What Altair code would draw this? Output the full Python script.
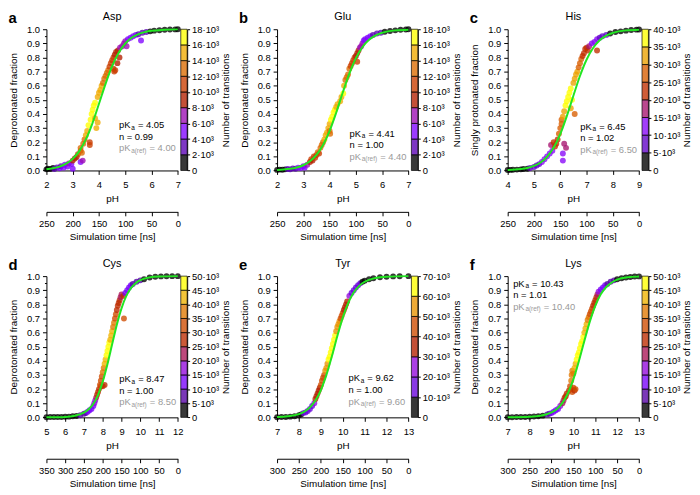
import math
import altair as alt
import pandas as pd

# ---------------- data ----------------
# points: (pH, fraction, number of transitions in thousands)
asp_points = [
    (2.00, 0.008, 0.5), (2.05, 0.012, 0.8), (2.15, 0.010, 1.2), (2.25, 0.018, 1.5), (2.30, 0.010, 2.5),
    (2.40, 0.022, 3.0), (2.50, 0.015, 4.0), (2.55, 0.030, 3.5), (2.65, 0.020, 4.5), (2.70, 0.040, 5.0),
    (2.80, 0.028, 4.5), (2.85, 0.050, 6.0), (2.95, 0.045, 5.5), (3.00, 0.012, 5.0), (3.00, 0.070, 8.5),
    (3.08, 0.085, 9.0), (3.15, 0.095, 9.5), (3.20, 0.115, 10.0), (3.30, 0.060, 5.5), (3.38, 0.070, 6.0),
    (3.30, 0.140, 11.0), (3.30, 0.160, 12.5), (3.35, 0.125, 12.0), (3.40, 0.190, 12.5), (3.45, 0.220, 13.5),
    (3.50, 0.250, 14.0), (3.55, 0.280, 15.5), (3.60, 0.320, 16.5), (3.65, 0.180, 10.5), (3.65, 0.200, 11.0),
    (3.68, 0.360, 17.0), (3.72, 0.400, 17.5), (3.76, 0.430, 17.0), (3.80, 0.460, 16.5), (3.85, 0.370, 14.5),
    (3.85, 0.480, 16.0), (3.90, 0.300, 14.0), (3.95, 0.340, 14.5), (3.95, 0.520, 15.5), (4.00, 0.550, 15.0),
    (4.05, 0.570, 14.5), (4.10, 0.600, 14.0), (4.15, 0.620, 13.5), (4.20, 0.650, 13.0), (4.25, 0.670, 12.5),
    (4.30, 0.690, 12.5), (4.35, 0.710, 12.0), (4.40, 0.735, 11.5), (4.45, 0.760, 11.0), (4.50, 0.780, 10.5),
    (4.55, 0.720, 10.5), (4.58, 0.700, 10.0), (4.62, 0.710, 10.5), (4.55, 0.800, 10.0), (4.60, 0.820, 9.5),
    (4.65, 0.840, 9.0), (4.70, 0.760, 9.5), (4.72, 0.850, 8.5), (4.78, 0.800, 8.0), (4.80, 0.870, 7.5),
    (4.88, 0.880, 7.0), (4.95, 0.900, 6.5), (5.00, 0.915, 6.0), (5.05, 0.880, 6.0), (5.10, 0.930, 5.5),
    (5.20, 0.940, 5.0), (5.30, 0.950, 4.5), (5.40, 0.960, 4.0), (5.50, 0.965, 3.5), (5.60, 0.920, 4.5),
    (5.65, 0.975, 3.0), (5.80, 0.980, 2.5), (5.95, 0.985, 1.8), (6.10, 0.990, 1.5), (6.30, 0.993, 1.0),
    (6.50, 0.996, 0.8), (6.70, 0.998, 0.5), (6.90, 0.999, 0.3), (7.00, 1.000, 0.2),
]
asp_curve = [
    (2.0, 0.009), (2.25, 0.016), (2.5, 0.027), (2.75, 0.048), (3.0, 0.082), (3.25, 0.137), (3.5, 0.220),
    (3.75, 0.334), (4.0, 0.472), (4.25, 0.613), (4.5, 0.738), (4.75, 0.834), (5.0, 0.899), (5.25, 0.941),
    (5.5, 0.966), (5.75, 0.980), (6.0, 0.989), (6.5, 0.996), (7.0, 0.999),
]

glu_points = [
    (2.00, 0.004, 0.5), (2.10, 0.006, 0.8), (2.20, 0.005, 1.0), (2.30, 0.008, 1.5), (2.40, 0.010, 2.0),
    (2.50, 0.008, 2.5), (2.60, 0.015, 3.0), (2.70, 0.012, 3.5), (2.80, 0.020, 4.5), (2.90, 0.018, 5.0),
    (3.00, 0.030, 5.5), (3.05, 0.020, 5.0), (3.15, 0.040, 7.0), (3.25, 0.060, 9.0), (3.30, 0.080, 10.0),
    (3.35, 0.070, 9.5), (3.40, 0.100, 10.5), (3.45, 0.090, 10.0), (3.50, 0.110, 11.0), (3.55, 0.130, 12.0),
    (3.60, 0.120, 11.5), (3.65, 0.160, 12.5), (3.70, 0.180, 13.0), (3.75, 0.200, 13.5), (3.80, 0.220, 14.0),
    (3.85, 0.250, 14.5), (3.90, 0.270, 15.0), (3.95, 0.300, 15.5), (4.00, 0.330, 15.5), (4.00, 0.280, 13.0),
    (4.02, 0.260, 12.5), (4.05, 0.360, 16.0), (4.10, 0.380, 16.0), (4.15, 0.410, 16.5), (4.20, 0.430, 16.0),
    (4.25, 0.450, 15.5), (4.30, 0.470, 15.5), (4.40, 0.490, 15.5), (4.45, 0.520, 15.0), (4.52, 0.545, 16.5),
    (4.55, 0.600, 14.0), (4.60, 0.640, 13.5), (4.65, 0.660, 13.0), (4.70, 0.680, 12.5), (4.75, 0.720, 12.0),
    (4.80, 0.740, 11.5), (4.85, 0.760, 11.0), (4.90, 0.780, 10.5), (4.95, 0.800, 10.0), (5.00, 0.810, 9.5),
    (5.05, 0.770, 10.0), (5.05, 0.830, 9.0), (5.10, 0.850, 8.0), (5.15, 0.870, 7.0), (5.20, 0.880, 6.5),
    (5.25, 0.900, 6.0), (5.30, 0.920, 5.5), (5.35, 0.930, 5.0), (5.45, 0.940, 4.5), (5.55, 0.950, 4.0),
    (5.65, 0.960, 3.5), (5.80, 0.970, 2.5), (5.95, 0.975, 2.0), (6.10, 0.982, 1.5), (6.30, 0.988, 1.0),
    (6.50, 0.992, 0.8), (6.70, 0.996, 0.5), (6.90, 0.998, 0.3), (7.00, 1.000, 0.2),
]
glu_curve = [
    (2.0, 0.004), (2.25, 0.007), (2.5, 0.012), (2.75, 0.021), (3.0, 0.037), (3.25, 0.065), (3.5, 0.110),
    (3.75, 0.180), (4.0, 0.280), (4.25, 0.409), (4.5, 0.552), (4.75, 0.686), (5.0, 0.795), (5.25, 0.874),
    (5.5, 0.925), (5.75, 0.956), (6.0, 0.975), (6.5, 0.992), (7.0, 0.997),
]

his_points = [
    (4.00, 0.003, 0.5), (4.10, 0.004, 1.0), (4.20, 0.005, 1.0), (4.35, 0.006, 2.0), (4.50, 0.008, 2.5),
    (4.60, 0.010, 3.0), (4.75, 0.012, 4.0), (4.85, 0.018, 5.0), (5.00, 0.025, 7.0), (5.10, 0.035, 8.0),
    (5.20, 0.045, 9.0), (5.30, 0.060, 10.0), (5.40, 0.080, 11.0), (5.50, 0.100, 12.0), (5.60, 0.120, 13.0),
    (5.65, 0.180, 19.0), (5.70, 0.140, 14.0), (5.75, 0.200, 21.0), (5.80, 0.170, 20.0), (5.85, 0.190, 22.0),
    (5.90, 0.220, 23.0), (5.95, 0.260, 25.0), (6.00, 0.300, 27.0), (6.05, 0.330, 28.0), (6.05, 0.360, 29.0),
    (6.10, 0.380, 30.0), (6.10, 0.120, 12.0), (6.10, 0.070, 11.0), (6.15, 0.190, 17.0), (6.22, 0.160, 18.0),
    (6.15, 0.420, 32.0), (6.20, 0.460, 36.0), (6.25, 0.490, 38.0), (6.30, 0.520, 38.5), (6.35, 0.550, 37.0),
    (6.40, 0.580, 36.0), (6.40, 0.440, 34.0), (6.45, 0.500, 37.0), (6.50, 0.620, 34.0), (6.55, 0.400, 27.0),
    (6.55, 0.650, 32.0), (6.60, 0.680, 31.0), (6.65, 0.700, 30.0), (6.70, 0.730, 29.0), (6.75, 0.760, 27.0),
    (6.80, 0.790, 25.0), (6.85, 0.810, 23.0), (6.90, 0.830, 22.0), (6.95, 0.860, 21.0), (7.00, 0.870, 20.0),
    (7.05, 0.850, 21.0), (7.10, 0.880, 18.0), (7.20, 0.900, 14.0), (7.30, 0.910, 12.0), (7.40, 0.850, 21.0),
    (7.40, 0.930, 10.0), (7.50, 0.940, 9.0), (7.60, 0.950, 8.0), (7.75, 0.960, 6.0), (7.90, 0.970, 4.0),
    (8.10, 0.980, 3.0), (8.30, 0.985, 2.0), (8.50, 0.990, 1.5), (8.70, 0.995, 1.0), (8.90, 0.997, 0.5),
    (9.00, 0.998, 0.3),
]
his_curve = [
    (4.0, 0.003), (4.5, 0.010), (4.75, 0.018), (5.0, 0.032), (5.25, 0.056), (5.5, 0.097), (5.75, 0.162),
    (6.0, 0.258), (6.25, 0.385), (6.5, 0.529), (6.75, 0.669), (7.0, 0.784), (7.25, 0.867), (7.5, 0.922),
    (7.75, 0.955), (8.0, 0.974), (8.5, 0.992), (9.0, 0.997),
]

cys_points = [
    (5.00, 0.001, 0.5), (5.20, 0.002, 0.8), (5.40, 0.002, 1.0), (5.60, 0.002, 1.2), (5.80, 0.003, 1.5),
    (6.00, 0.004, 2.0), (6.20, 0.005, 2.5), (6.40, 0.008, 3.0), (6.60, 0.010, 4.0), (6.80, 0.015, 5.0),
    (7.00, 0.025, 7.0), (7.10, 0.030, 9.0), (7.20, 0.040, 11.0), (7.30, 0.050, 12.0), (7.40, 0.060, 13.0),
    (7.50, 0.080, 14.0), (7.55, 0.100, 16.0), (7.60, 0.120, 18.0), (7.65, 0.140, 24.0), (7.70, 0.160, 26.0),
    (7.75, 0.180, 27.0), (7.80, 0.200, 28.0), (7.90, 0.220, 29.0), (8.00, 0.220, 28.0), (8.10, 0.230, 28.0),
    (7.85, 0.230, 30.0), (7.90, 0.260, 32.0), (7.95, 0.290, 34.0), (8.00, 0.320, 36.0), (8.05, 0.350, 38.0),
    (8.10, 0.380, 41.0), (8.15, 0.410, 44.0), (8.20, 0.440, 47.0), (8.25, 0.470, 48.0), (8.30, 0.500, 47.0),
    (8.35, 0.530, 46.0), (8.40, 0.550, 44.0), (8.45, 0.580, 42.0), (8.50, 0.610, 40.0), (8.55, 0.640, 38.0),
    (8.60, 0.670, 36.0), (8.65, 0.700, 34.0), (8.70, 0.730, 31.0), (8.75, 0.760, 29.0), (8.80, 0.790, 27.0),
    (8.85, 0.810, 26.0), (8.90, 0.830, 25.0), (8.95, 0.850, 24.0), (9.00, 0.870, 22.0), (9.10, 0.860, 25.0),
    (9.13, 0.700, 30.0), (9.20, 0.880, 14.0), (9.30, 0.900, 12.0), (9.40, 0.920, 11.0), (9.50, 0.935, 10.0),
    (9.60, 0.945, 9.0), (9.80, 0.960, 7.0), (10.00, 0.970, 5.0), (10.20, 0.978, 4.0), (10.50, 0.990, 3.0),
    (10.80, 0.995, 2.0), (11.10, 0.998, 1.5), (11.40, 0.999, 1.0), (11.70, 1.000, 0.5), (12.00, 1.000, 0.3),
]
cys_curve = [
    (5.0, 0.000), (5.5, 0.001), (6.0, 0.003), (6.5, 0.011), (7.0, 0.033), (7.25, 0.057), (7.5, 0.097),
    (7.75, 0.160), (8.0, 0.253), (8.25, 0.376), (8.5, 0.517), (8.75, 0.656), (9.0, 0.772), (9.25, 0.858),
    (9.5, 0.915), (9.75, 0.950), (10.0, 0.971), (10.5, 0.991), (11.0, 0.997), (12.0, 1.000),
]

tyr_points = [
    (7.00, 0.001, 0.5), (7.20, 0.002, 1.0), (7.40, 0.003, 1.5), (7.60, 0.005, 2.0), (7.80, 0.008, 3.0),
    (8.00, 0.015, 5.0), (8.10, 0.020, 7.0), (8.20, 0.030, 10.0), (8.30, 0.035, 12.0), (8.40, 0.045, 14.0),
    (8.50, 0.060, 16.0), (8.60, 0.080, 18.0), (8.70, 0.100, 22.0), (8.75, 0.130, 30.0), (8.80, 0.150, 32.0),
    (8.85, 0.170, 34.0), (8.90, 0.190, 35.0), (8.95, 0.210, 37.0), (9.00, 0.230, 40.0), (9.05, 0.260, 43.0),
    (9.10, 0.280, 46.0), (9.15, 0.300, 48.0), (9.20, 0.330, 52.0), (9.25, 0.350, 55.0), (9.30, 0.380, 58.0),
    (9.35, 0.410, 62.0), (9.40, 0.430, 64.0), (9.45, 0.460, 66.0), (9.50, 0.490, 67.0), (9.55, 0.520, 66.0),
    (9.60, 0.550, 65.0), (9.65, 0.580, 63.0), (9.70, 0.610, 58.0), (9.75, 0.640, 54.0), (9.80, 0.660, 52.0),
    (9.85, 0.680, 50.0), (9.90, 0.700, 47.0), (9.95, 0.720, 44.0), (10.00, 0.740, 40.0), (10.05, 0.760, 37.0),
    (10.10, 0.780, 35.0), (10.15, 0.800, 33.0), (10.20, 0.820, 31.0), (10.30, 0.860, 22.0), (10.40, 0.880, 19.0),
    (10.50, 0.900, 17.0), (10.60, 0.920, 15.0), (10.70, 0.935, 13.0), (10.80, 0.950, 11.0), (10.90, 0.960, 9.0),
    (11.00, 0.968, 7.0), (11.20, 0.978, 5.0), (11.40, 0.985, 3.0), (11.70, 0.992, 2.0), (12.00, 0.996, 1.5),
    (12.30, 0.998, 1.0), (12.60, 0.999, 0.5), (13.00, 1.000, 0.3),
]
tyr_curve = [
    (7.0, 0.002), (7.5, 0.008), (8.0, 0.023), (8.25, 0.041), (8.5, 0.071), (8.75, 0.119), (9.0, 0.193),
    (9.25, 0.299), (9.5, 0.431), (9.75, 0.574), (10.0, 0.706), (10.25, 0.810), (10.5, 0.884), (10.75, 0.931),
    (11.0, 0.960), (11.5, 0.987), (12.0, 0.996), (13.0, 1.000),
]

lys_points = [
    (7.00, 0.001, 0.5), (7.20, 0.001, 0.8), (7.40, 0.002, 1.0), (7.60, 0.002, 1.2), (7.80, 0.003, 1.5),
    (8.00, 0.004, 2.0), (8.20, 0.006, 2.5), (8.40, 0.008, 3.0), (8.60, 0.012, 4.0), (8.80, 0.020, 6.0),
    (8.90, 0.025, 8.0), (9.00, 0.030, 10.0), (9.10, 0.040, 12.0), (9.20, 0.050, 13.0), (9.30, 0.060, 14.0),
    (9.40, 0.080, 16.0), (9.50, 0.100, 20.0), (9.55, 0.120, 24.0), (9.60, 0.140, 26.0), (9.65, 0.150, 27.0),
    (9.70, 0.170, 28.0), (9.80, 0.190, 29.0), (9.90, 0.200, 30.0), (9.95, 0.180, 31.0), (10.00, 0.210, 30.0),
    (10.05, 0.190, 29.0), (10.10, 0.200, 31.0), (9.85, 0.220, 32.0), (9.90, 0.260, 35.0), (9.92, 0.300, 36.0),
    (9.95, 0.330, 37.0), (10.00, 0.310, 38.0), (10.05, 0.350, 40.0), (10.10, 0.380, 43.0), (10.15, 0.410, 46.0),
    (10.20, 0.440, 48.0), (10.25, 0.460, 48.5), (10.30, 0.490, 48.0), (10.35, 0.520, 47.0), (10.40, 0.540, 46.0),
    (10.45, 0.570, 45.0), (10.50, 0.600, 44.0), (10.55, 0.630, 42.0), (10.60, 0.660, 40.0), (10.65, 0.690, 38.0),
    (10.70, 0.710, 36.0), (10.75, 0.730, 34.0), (10.80, 0.750, 32.0), (10.85, 0.770, 30.0), (10.90, 0.790, 28.0),
    (10.95, 0.810, 27.0), (11.00, 0.830, 26.0), (11.05, 0.850, 25.0), (11.10, 0.870, 22.0), (11.15, 0.890, 16.0),
    (11.25, 0.905, 14.0), (11.35, 0.920, 12.0), (11.45, 0.935, 11.0), (11.55, 0.945, 9.0), (11.70, 0.960, 7.0),
    (11.85, 0.970, 5.0), (12.00, 0.978, 4.0), (12.20, 0.985, 3.0), (12.40, 0.990, 2.0), (12.60, 0.994, 1.5),
    (12.80, 0.997, 1.0), (13.00, 0.998, 0.5),
]
lys_curve = [
    (7.0, 0.000), (8.0, 0.004), (8.5, 0.011), (9.0, 0.035), (9.25, 0.060), (9.5, 0.103), (9.75, 0.171),
    (10.0, 0.269), (10.25, 0.397), (10.5, 0.541), (10.75, 0.678), (11.0, 0.790), (11.25, 0.871), (11.5, 0.923),
    (11.75, 0.955), (12.0, 0.975), (12.5, 0.992), (13.0, 0.997),
]

letters = ["a", "b", "c", "d", "e", "f"]
names = ["Asp", "Glu", "His", "Cys", "Tyr", "Lys"]
ylabels = ["Deprotonated fraction", "Deprotonated fraction", "Singly protonated fraction",
           "Deprotonated fraction", "Deprotonated fraction", "Deprotonated fraction"]
ph_ranges = [(2, 7), (2, 7), (4, 9), (5, 12), (7, 13), (7, 13)]
time_max = [250, 250, 250, 350, 300, 300]
cbar_max = [18, 18, 40, 50, 70, 50]      # thousands of transitions
cbar_step = [2, 2, 5, 5, 10, 5]
pka_fit = ["4.05", "4.41", "6.45", "8.47", "9.62", "10.43"]
hill_n = ["0.99", "1.00", "1.02", "1.00", "1.00", "1.01"]
pka_ref = ["4.00", "4.40", "6.50", "8.50", "9.60", "10.40"]
ann_ph = [4.76, 4.76, 6.76, 8.88, 10.26, 7.25]
ann_frac = [0.32, 0.26, 0.31, 0.27, 0.275, 0.945]
frac_ticks = [0.0, 0.1, 0.2, 0.3, 0.4, 0.5, 0.6, 0.7, 0.8, 0.9, 1.0]
frac_minor = [0.05, 0.15, 0.25, 0.35, 0.45, 0.55, 0.65, 0.75, 0.85, 0.95]
all_points = [asp_points, glu_points, his_points, cys_points, tyr_points, lys_points]
all_curves = [asp_curve, glu_curve, his_curve, cys_curve, tyr_curve, lys_curve]

# ---------------- styling ----------------
FONT = "Liberation Sans"
W, H = 133.3, 143.3
GREY = "#9a9a9a"
AX = dict(labelFont=FONT, titleFont=FONT, labelFontSize=9.5, titleFontSize=10, titleFontWeight="normal",
          labelColor="black", titleColor="black", domainColor="black", tickColor="black",
          domainWidth=1, tickWidth=1, grid=False, labelFlush=False, labelOverlap=False)


def palette(n):
    out = []
    for i in range(n):
        x = i / (n - 1)
        r = math.sqrt(x)
        g = x ** 3
        b = math.sin(2 * math.pi * x)
        b = b if b > 1e-9 else 0.0
        out.append("#{:02x}{:02x}{:02x}".format(round(255 * r), round(255 * g), round(255 * b)))
    return out


def panel(k):
    xlo, xhi = ph_ranges[k]
    cmax, cstep = cbar_max[k], cbar_step[k]
    nb = int(round(cmax / cstep))
    pts = pd.DataFrame(all_points[k], columns=["ph", "frac", "trans"])
    cur = pd.DataFrame(all_curves[k], columns=["ph", "frac"])
    cscale = alt.Scale(type="quantize", domain=[0, cmax], range=palette(nb), nice=False)

    x_enc = alt.X("ph:Q", scale=alt.Scale(domain=[xlo, xhi], nice=False, zero=False),
                  axis=alt.Axis(values=list(range(xlo, xhi + 1)), format="d", title="pH",
                                tickSize=4, labelPadding=5, titlePadding=5, **AX))
    y_enc = alt.Y("frac:Q", scale=alt.Scale(domain=[0, 1], nice=False, zero=False),
                  axis=alt.Axis(values=frac_ticks, format=".1f", title=ylabels[k],
                                tickSize=4, labelPadding=3, titlePadding=8, **AX))

    dots = alt.Chart(pts).mark_circle(size=36, opacity=0.78).encode(
        x=x_enc, y=y_enc, color=alt.Color("trans:Q", scale=cscale, legend=None))
    line = alt.Chart(cur).mark_line(color="#22e622", strokeWidth=2, interpolate="monotone").encode(
        x=x_enc, y=y_enc)

    adf = pd.DataFrame({"ph": [ann_ph[k]], "frac": [ann_frac[k]]})
    pieces = [
        ("pK", 0, 0, 9.5, "black"),
        ("a", 12.4, 2.5, 6.5, "black"),
        ("= " + pka_fit[k], 19.2, 0, 9.5, "black"),
        ("n = " + hill_n[k], 0, 11.5, 9.5, "black"),
        ("pK", 0, 23.5, 9.5, GREY),
        ("a(ref)", 12.4, 26.0, 6.5, GREY),
        ("= " + pka_ref[k], 31.0, 23.5, 9.5, GREY),
    ]
    texts = [
        alt.Chart(adf).mark_text(text=t, dx=dx, dy=dy, fontSize=fs, color=c, align="left",
                                 baseline="middle", font=FONT).encode(x=x_enc, y=y_enc)
        for t, dx, dy, fs, c in pieces
    ]
    letter = alt.Chart(pd.DataFrame({"t": [letters[k]]})).mark_text(
        align="left", baseline="alphabetic", fontSize=15, fontWeight="bold", font=FONT, color="black"
    ).encode(text="t:N", x=alt.value(-38.5), y=alt.value(-6))
    name = alt.Chart(pd.DataFrame({"t": [names[k]]})).mark_text(
        align="center", baseline="middle", fontSize=11, font=FONT, color="black"
    ).encode(text="t:N", x=alt.value(W / 2), y=alt.value(-12))

    main = alt.layer(dots, line, *texts, letter, name)

    tmax = time_max[k]
    time_layer = alt.Chart(pd.DataFrame({"t": [0, tmax]})).mark_point(opacity=0).encode(
        x=alt.X("t:Q", scale=alt.Scale(domain=[0, tmax], reverse=True, nice=False, zero=False),
                axis=alt.Axis(orient="bottom", offset=42, values=list(range(tmax, -1, -50)), format="d",
                              title="Simulation time [ns]", tickSize=4, labelPadding=3, titlePadding=4, **AX)),
        y=alt.value(H),
    )
    minor_layer = alt.Chart(pd.DataFrame({"m": [0.0, 1.0]})).mark_point(opacity=0).encode(
        x=alt.value(0),
        y=alt.Y("m:Q", scale=alt.Scale(domain=[0, 1], nice=False, zero=False),
                axis=alt.Axis(orient="left", values=frac_minor, labels=False, domain=False, title=None,
                              tickSize=2, tickColor="black", tickWidth=1, grid=False)),
    )
    lo = [i * cstep for i in range(nb)]
    cb = pd.DataFrame({"lo": lo, "hi": [v + cstep for v in lo], "mid": [v + cstep / 2 for v in lo],
                       "c0": [0] * nb, "c1": [1] * nb})
    cbar = alt.Chart(cb).mark_rect(stroke="black", strokeWidth=0.7, fillOpacity=0.78).encode(
        x=alt.X("c0:Q", scale=alt.Scale(domain=[0, 1], range=[W + 3, W + 9.5], nice=False, zero=False), axis=None),
        x2="c1:Q",
        y=alt.Y("lo:Q", scale=alt.Scale(domain=[0, cmax], nice=False, zero=False),
                axis=alt.Axis(orient="right", offset=9.5, values=list(range(0, cmax + 1, cstep)),
                              labelExpr="datum.value == 0 ? '0' : datum.value + '·10³'",
                              title="Number of transitions", titleAngle=270, titleBaseline="top",
                              titleAlign="center", tickSize=2.5, labelPadding=2, titlePadding=2, **AX)),
        y2="hi:Q",
        color=alt.Color("mid:Q", scale=cscale, legend=None),
    )
    return alt.layer(main, time_layer, minor_layer, cbar).resolve_scale(
        x="independent", y="independent").properties(width=W, height=H)


chart = alt.concat(*[panel(k) for k in range(6)], columns=3,
                   spacing={"row": 106.5, "column": 100}, bounds="flush").resolve_scale(
    color="independent").properties(padding=0).configure(font=FONT).configure_view(
    stroke=None).configure_axis(labelOverlap=False, labelFlush=False, grid=False)

chart.save("out.html", embed_options={"renderer": "svg", "actions": False})
